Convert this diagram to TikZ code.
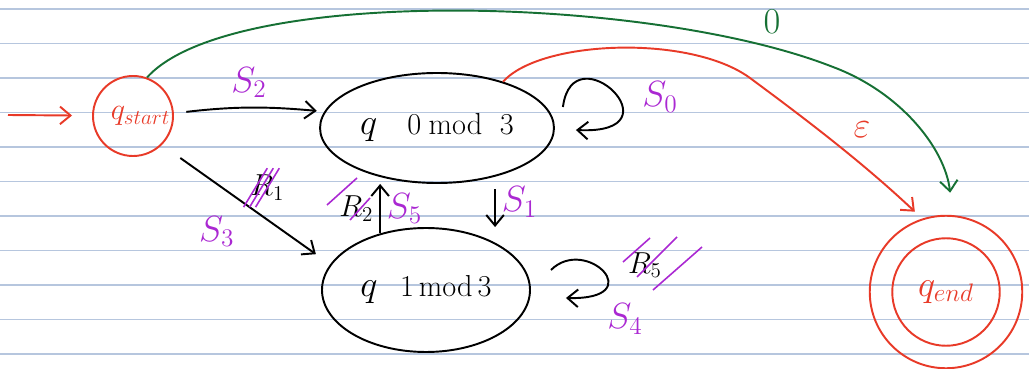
\documentclass[tikz,border=0pt]{standalone}
\usepackage{amsmath}
\usepackage{amssymb}
\usepackage{tikz}
\usetikzlibrary{positioning, arrows.meta, shapes, calc}
\usepackage{xcolor}
\definecolor{inkred}{RGB}{232,58,40}
\definecolor{inkgreen}{RGB}{22,112,52}
\definecolor{inkpurple}{RGB}{170,40,210}
\definecolor{ruleblue}{RGB}{182,198,222}
\tikzset{
  rule/.style={ruleblue, line width=0.8pt},
  strike/.style={inkpurple, line width=0.9pt},
  lab/.style={inkpurple, font=\huge}
}

\begin{document}
\begin{tikzpicture}[>={Straight Barb[length=6pt,width=10pt]}, line width=1.1pt, font=\LARGE]
\useasboundingbox (0,0) rectangle (20.58,7.36);
% ruled paper
\foreach \k in {0,...,10}
  \draw[rule] (0,7.18-0.69*\k) -- (20.58,7.18-0.69*\k);

\node[draw, circle, inkred, minimum size=1.6cm, inner sep=0pt] (qstart) at (2.66,5.04) {\hspace{0.3cm}$q_{start}$};
\node[draw, ellipse, minimum width=4.6cm, minimum height=2.2cm] (q0) at (8.74,4.80)
  {{\huge$q$}\hspace{0.6cm}0\hspace{0.15cm}mod\hspace{0.35cm}3};
\node[draw, ellipse, minimum width=4.16cm, minimum height=2.48cm] (q1) at (8.52,1.56)
  {{\huge$q$}\hspace{0.45cm}1\hspace{0.1cm}mod\hspace{0.1cm}3};
\node[draw, circle, inkred, minimum size=3.05cm, font=\huge] (qend) at (18.92,1.52) {$q_{end}$};
\node[draw, circle, inkred, minimum size=2.15cm] (qendin) at (qend) {};
\coordinate (init) at (0.16,5.06);

\draw[->, inkred, shorten >=0.4cm] (init) -- (qstart);
\draw[->, shorten <=0.25cm, shorten >=0.15cm] (qstart) to[bend left=6] node[above=2pt, lab] {$S_2$} (q0);
\draw[->, shorten <=0.45cm, shorten >=0.35cm] (qstart.-45) -- node[below left=4pt, lab] {$S_3$} node[above right=-2pt] (r1) {$R_1$} (q1.165);
\draw[->, shorten <=0.25cm] (q0.-40) -- (q0.-40 |- q1.north) node[midway, right, lab] {$S_1$};
\draw[->] (q1.129) -- (q1.129 |- q0.south) node[midway, right, lab] {$S_5$} node[midway, left] (r2) {$R_2$};

% self loops
\draw[->] ([shift={(0.16,0.42)}]q0.east) .. controls +(0.2,1.54) and +(2.14,-0.1) .. ([shift={(0.42,-0.04)}]q0.east);
\node[lab] (s0) at (13.2,5.42) {$S_0$};
\draw[->] ([shift={(0.4,0.4)}]q1.east) .. controls +(0.7,0.7) and +(1.7,-0.04) .. ([shift={(0.7,-0.16)}]q1.east);
\node[lab] (s4) at (12.5,0.98) {$S_4$};
\node (r5) at (12.9,2.06) {$R_5$};

% into the final state
\draw[->, inkred, shorten >=0.2cm] (q0.35) .. controls (10.8,6.56) and (13.8,6.68) .. (15.0,5.8)
  .. controls (16.0,5.06) and (17.2,4.16) .. (qend.108);
\node[inkred, font=\huge] (eps) at (17.24,4.76) {$\varepsilon$};
\draw[->, inkgreen, shorten >=0.45cm] (qstart.70) .. controls (4.6,7.66) and (13.0,7.46) .. (16.66,6.02)
  .. controls (18.0,5.52) and (18.9,4.4) .. (qend.85);
\node[inkgreen, font=\huge] (zero) at (15.44,6.92) {$0$};

% crossed out labels
\foreach \d in {0,0.12,0.24}
  \draw[strike] ([xshift=\d cm]r1.south west) -- ([xshift=\d cm]r1.north);
\draw[strike] (6.54,3.26) -- (7.14,3.80);
\draw[strike] (7.0,2.96) -- (7.4,3.4);
\draw[strike] (12.46,2.12) -- (13.0,2.6);
\draw[strike] (12.74,1.82) -- (13.54,2.62);
\draw[strike] (13.06,1.56) -- (14.04,2.42);
\end{tikzpicture}
\end{document}
